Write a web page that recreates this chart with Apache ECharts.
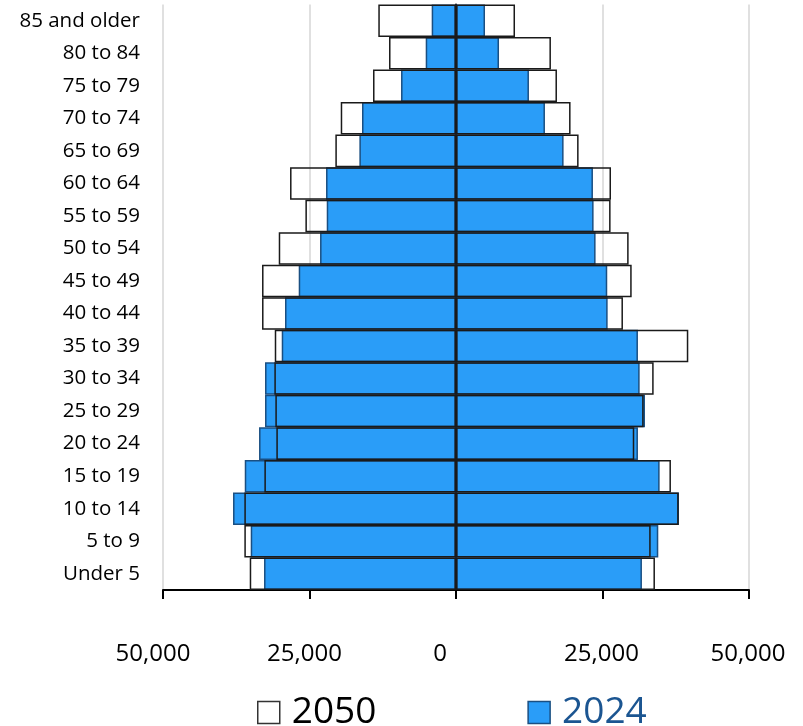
<!DOCTYPE html>
<html>
<head>
<meta charset="utf-8">
<script src="https://cdn.jsdelivr.net/npm/echarts@6/dist/echarts.min.js"></script>
<style>
html,body{margin:0;padding:0;background:#fff;}
#chart{width:803px;height:726px;}
</style>
</head>
<body>
<div id="chart"></div>
<script>
// Age groups, bottom to top
const categories = ['Under 5','5 to 9','10 to 14','15 to 19','20 to 24','25 to 29','30 to 34','35 to 39','40 to 44','45 to 49','50 to 54','55 to 59','60 to 64','65 to 69','70 to 74','75 to 79','80 to 84','85 and older'];

// 2024 population (left side shown as negative)
const left2024  = [-32760,-35030,-38050,-36050,-33610,-32590,-32590,-29740,-29180,-26840,-23200,-22060,-22180,-16490,-16040,-9380,-5170,-4150];
const right2024 = [31730,34520,38050,34750,31050,32250,31340,31050,25880,25810,23820,23480,23370,18360,15180,12450,7340,4950];

// 2050 population (left side shown as negative)
const left2050  = [-35200,-36120,-36120,-32700,-30660,-30830,-31000,-30930,-33100,-33100,-30250,-25700,-28320,-20590,-19670,-14160,-11430,-13260];
const right2050 = [33950,33220,38000,36680,30420,32020,33730,39640,28490,29980,29460,26380,26450,20920,19550,17230,16200,10070];

// Tick values on the value axis
const tickValues = [-50000,-25000,0,25000,50000];

const FONT = '"Open Sans", "Noto Sans", sans-serif';
const BLUE = '#2A9DF8';
const BLUE_BORDER = '#1A4F82';

const labelPad = {'-50000':20,'-25000':10,'0':32,'25000':2,'50000':2};

const chart = echarts.init(document.getElementById('chart'), null, {renderer:'canvas'});

const blueStyle = {color: BLUE, borderColor: BLUE_BORDER, borderWidth: 1.5};
const whiteStyle = {color: 'rgba(255,255,255,0)', borderColor: '#1a1a1a', borderWidth: 1.5};

chart.setOption({
  animation: false,
  backgroundColor: '#fff',
  textStyle: {fontFamily: FONT},
  grid: {left: 163, right: 54, top: 4.5, bottom: 136, containLabel: false, outerBoundsMode: 'none'},
  legend: {
    left: 252, top: 689,
    itemWidth: 22, itemHeight: 22, itemGap: 151,
    icon: 'rect',
    textStyle: {fontSize: 37, fontFamily: FONT, padding: [0,0,0,7]},
    data: [
      {name: '2050', itemStyle: {color: '#fff', borderColor: '#333', borderWidth: 1.5}, textStyle: {color: '#000'}},
      {name: '2024', itemStyle: {color: BLUE, borderColor: BLUE_BORDER, borderWidth: 1.5}, textStyle: {color: '#1B5591'}}
    ]
  },
  xAxis: {
    type: 'value',
    min: tickValues[0], max: tickValues[tickValues.length-1], interval: 25000,
    axisLine: {show: true, onZero: false, lineStyle: {color: '#000', width: 2}},
    axisTick: {show: true, inside: false, length: 9, lineStyle: {color: '#000', width: 2}},
    splitLine: {show: true, lineStyle: {color: '#d6d6d6', width: 1.5}},
    axisLabel: {
      margin: 52,
      fontSize: 24, color: '#000', fontFamily: FONT,
      formatter: function (v) {
        const s = Math.abs(v).toLocaleString('en-US');
        return '{p' + (labelPad[String(v)] || 0) + '|' + s + '}';
      },
      rich: {
        p20: {fontSize: 24, fontFamily: FONT, color:'#000', padding: [0,20,0,0]},
        p10: {fontSize: 24, fontFamily: FONT, color:'#000', padding: [0,10,0,0]},
        p32: {fontSize: 24, fontFamily: FONT, color:'#000', padding: [0,32,0,0]},
        p2:  {fontSize: 24, fontFamily: FONT, color:'#000', padding: [0,2,0,0]},
        p0:  {fontSize: 24, fontFamily: FONT, color:'#000'}
      }
    }
  },
  yAxis: {
    type: 'category',
    data: categories,
    axisLine: {show: true, onZero: true, lineStyle: {color: '#000', width: 2}},
    axisTick: {show: false},
    axisLabel: {fontSize: 20.5, color: '#000', margin: 23, fontFamily: FONT},
    splitLine: {show: false}
  },
  series: [
    {name: '2024', type: 'bar', data: left2024, barGap: '-100%', barCategoryGap: '0%', itemStyle: blueStyle, z: 2},
    {name: '2024', type: 'bar', data: right2024, barGap: '-100%', barCategoryGap: '0%', itemStyle: blueStyle, z: 2},
    {name: '2050', type: 'bar', data: left2050, barGap: '-100%', barCategoryGap: '0%', itemStyle: whiteStyle, z: 3},
    {name: '2050', type: 'bar', data: right2050, barGap: '-100%', barCategoryGap: '0%', itemStyle: whiteStyle, z: 3}
  ]
});
</script>
</body>
</html>
